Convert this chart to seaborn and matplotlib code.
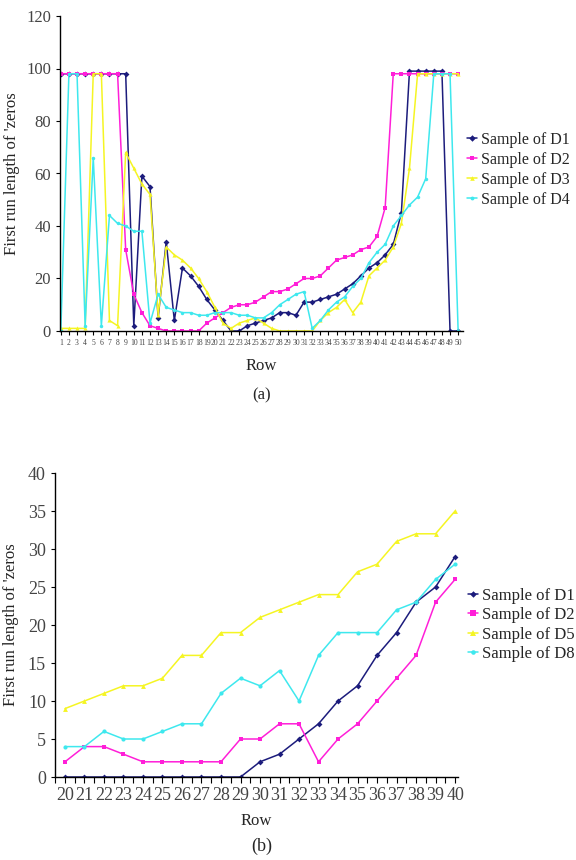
import numpy as np
import pandas as pd
import matplotlib
matplotlib.use("Agg")
import matplotlib.pyplot as plt
import seaborn as sns
from matplotlib.ticker import MultipleLocator

# Chart (a): rows 1..50
rows_a = list(range(1, 51))
d1_a = [98, 98, 98, 98, 98, 98, 98, 98, 98, 2,
        59, 55, 5, 34, 4, 24, 21, 17, 12, 8,
        4, 0, 0, 2, 3, 4, 5, 7, 7, 6,
        11, 11, 12, 13, 14, 16, 18, 21, 24, 26,
        29, 33, 45, 99, 99, 99, 99, 99, 0, 0]
d2_a = [98, 98, 98, 98, 98, 98, 98, 98, 31, 14,
        7, 2, 1, 0, 0, 0, 0, 0, 3, 5,
        7, 9, 10, 10, 11, 13, 15, 15, 16, 18,
        20, 20, 21, 24, 27, 28, 29, 31, 32, 36,
        47, 98, 98, 98, 98, 98, 98, 98, 98, 98]
d3_a = [1, 1, 1, 1, 98, 98, 4, 2, 68, 62,
        56, 52, 6, 32, 29, 27, 24, 20, 15, 9,
        3, 1, 3, 4, 5, 3, 1, 0, 0, 0,
        0, 0, 4, 7, 9, 12, 7, 11, 21, 24,
        27, 32, 41, 62, 98, 98, 98, 98, 98, 98]
d4_a = [0, 98, 98, 2, 66, 2, 44, 41, 40, 38,
        38, 3, 14, 9, 8, 7, 7, 6, 6, 7,
        7, 7, 6, 6, 5, 5, 7, 10, 12, 14,
        15, 1, 4, 8, 11, 13, 17, 20, 26, 30,
        33, 40, 44, 48, 51, 58, 98, 98, 98, 0]

# Chart (b): rows 20..40
rows_b = list(range(20, 41))
d1_b = [0, 0, 0, 0, 0, 0, 0, 0, 0, 0, 2, 3, 5, 7, 10, 12, 16, 19, 23, 25, 29]
d2_b = [2, 4, 4, 3, 2, 2, 2, 2, 2, 5, 5, 7, 7, 2, 5, 7, 10, 13, 16, 23, 26]
d5_b = [9, 10, 11, 12, 12, 13, 16, 16, 19, 19, 21, 22, 23, 24, 24, 27, 28, 31, 32, 32, 35]
d8_b = [4, 4, 6, 5, 5, 6, 7, 7, 11, 13, 12, 14, 10, 16, 19, 19, 19, 22, 23, 26, 28]

NAVY = "#1c1c7c"
MAGENTA = "#ff1fd8"
YELLOW = "#f5f523"
CYAN = "#3ee8ee"

sns.set_style("white")
plt.rcParams['font.family'] = ['Liberation Serif', 'DejaVu Serif']

fig = plt.figure(figsize=(5.76, 8.6), dpi=100)

ylab = "First run length of 'zeros"
tick_col = "#444444"


def style_axes(ax):
    sns.despine(ax=ax)
    for s in ["left", "bottom"]:
        ax.spines[s].set_color("black")
        ax.spines[s].set_linewidth(1.0)
    ax.tick_params(axis="both", direction="out", length=3, width=0.8,
                   colors="black", labelcolor=tick_col, left=True, bottom=True)


# ---- chart (a)
ax1 = fig.add_axes([60 / 576, 1 - 331 / 860, 403 / 576, 315 / 860])
series_a = [("Sample of D1", d1_a, NAVY, "D", 3),
            ("Sample of D2", d2_a, MAGENTA, "s", 3),
            ("Sample of D3", d3_a, YELLOW, "^", 3),
            ("Sample of D4", d4_a, CYAN, "o", 2.5)]
for name, vals, col, mk, ms in series_a:
    sns.lineplot(x=rows_a, y=vals, color=col, marker=mk, markersize=ms,
                 markeredgewidth=0, linewidth=1.1, label=name, ax=ax1)
ax1.set_xlim(0.9, 50.6)
ax1.set_ylim(0, 120)
ax1.set_yticks(range(0, 121, 20))
ax1.set_xticks(rows_a)
ax1.set_xticklabels([str(r) for r in rows_a], fontsize=5.5)
ax1.tick_params(axis="y", labelsize=12)
style_axes(ax1)
ax1.tick_params(axis="x", length=3, pad=3)
ax1.set_xlabel("Row", fontsize=12, labelpad=8)
ax1.set_ylabel(ylab, fontsize=12)
ax1.yaxis.set_label_coords(-0.1, 0.5)
ax1.legend(loc="upper left", bbox_to_anchor=(467 / 576, 1 - 132 / 860),
           bbox_transform=fig.transFigure, frameon=False, fontsize=11.5,
           handlelength=0.6, handletextpad=0.25, labelspacing=0.25,
           borderpad=0, borderaxespad=0, markerscale=1.1)
fig.text(262 / 576, 1 - 395 / 860, "(a)", fontsize=12, ha="center", va="center")

# ---- chart (b)
ax2 = fig.add_axes([55 / 576, 1 - 777 / 860, 403 / 576, 304 / 860])
series_b = [("Sample of D1", d1_b, NAVY, "D", 3),
            ("Sample of D2", d2_b, MAGENTA, "s", 3.5),
            ("Sample of D5", d5_b, YELLOW, "^", 3.5),
            ("Sample of D8", d8_b, CYAN, "o", 3)]
for name, vals, col, mk, ms in series_b:
    sns.lineplot(x=rows_b, y=vals, color=col, marker=mk, markersize=ms,
                 markeredgewidth=0, linewidth=1.1, label=name, ax=ax2)
ax2.set_xlim(19.49, 40.15)
ax2.set_ylim(0, 40)
ax2.set_yticks(range(0, 41, 5))
ax2.set_xticks(rows_b)
ax2.xaxis.set_minor_locator(MultipleLocator(0.5))
style_axes(ax2)
ax2.tick_params(axis="x", which="minor", direction="out", length=4, width=0.8,
                color="black", bottom=True)
ax2.tick_params(axis="x", which="major", length=4)
ax2.tick_params(axis="both", labelsize=13)
ax2.set_xlabel("Row", fontsize=12, labelpad=6)
ax2.set_ylabel(ylab, fontsize=12)
ax2.yaxis.set_label_coords(-0.09, 0.5)
ax2.legend(loc="upper left", bbox_to_anchor=(468 / 576, 1 - 588 / 860),
           bbox_transform=fig.transFigure, frameon=False, fontsize=12,
           handlelength=0.6, handletextpad=0.25, labelspacing=0.2,
           borderpad=0, borderaxespad=0, markerscale=1.1)
fig.text(262 / 576, 1 - 846 / 860, "(b)", fontsize=13, ha="center", va="center")

fig.savefig("out.png", dpi=100)
